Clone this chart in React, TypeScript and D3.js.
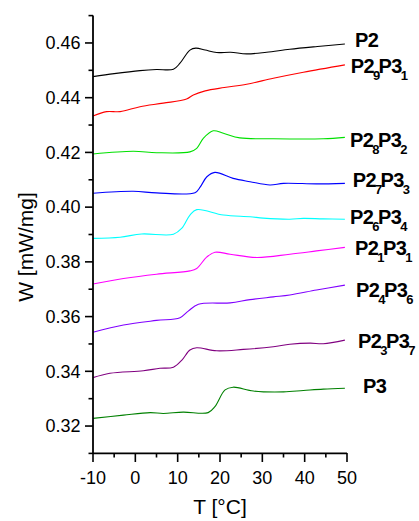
import React from "react";
import * as d3 from "d3";

// Temperature (°C) and heat-flow W (mW/mg)
const P2: [number, number][] = [
  [-10, 0.4477], [-5, 0.4488], [1.1, 0.4499], [5, 0.4503], [9.0, 0.4504], [10.55, 0.4526],
  [12.9, 0.4574], [14.3, 0.4581], [16.5, 0.4574], [19.2, 0.4565], [22.5, 0.4566],
  [26.3, 0.4560], [31, 0.4566], [36.5, 0.4577], [43, 0.4587], [49.5, 0.4596],
];
const P2_9P3_1: [number, number][] = [
  [-10, 0.4333], [-6.8, 0.4349], [-3.6, 0.4349], [1.1, 0.4367], [6.6, 0.438], [12.1, 0.4395],
  [13.7, 0.441], [16.5, 0.4425], [21, 0.4437], [26.3, 0.4449], [32.6, 0.4471],
  [39.7, 0.4493], [49.5, 0.452],
];
const P2_8P3_2: [number, number][] = [
  [-10, 0.4194], [-0.5, 0.4204], [5, 0.4199], [12.9, 0.4202], [14.5, 0.4215], [16.1, 0.4252],
  [18.4, 0.4279], [20.8, 0.427], [24.7, 0.4253], [32.6, 0.425], [44.4, 0.425], [49.5, 0.4255],
];
const P2_7P3_3: [number, number][] = [
  [-10, 0.4051], [-0.5, 0.4058], [5, 0.4052], [14.1, 0.4053], [15.3, 0.4073], [16.9, 0.4111],
  [18.8, 0.4127], [23.1, 0.4105], [27.1, 0.4093], [31.8, 0.4081], [35, 0.4087],
  [42.8, 0.4085], [49.5, 0.4087],
];
const P2_6P3_4: [number, number][] = [
  [-10, 0.3886], [-3.6, 0.389], [1.5, 0.3902], [9.0, 0.3901], [11.0, 0.3923], [12.9, 0.3971],
  [14.5, 0.3991], [20.8, 0.3971], [27.1, 0.3965], [30.2, 0.396], [36.5, 0.3956],
  [39.7, 0.3959], [44.4, 0.3957], [49.5, 0.3956],
];
const P2_1P3_1: [number, number][] = [
  [-10, 0.3719], [-2.8, 0.3739], [5, 0.3755], [12.9, 0.3767], [14.5, 0.3776], [16.9, 0.3818],
  [18.8, 0.3835], [22.4, 0.3828], [28.7, 0.3816], [36.5, 0.3828], [42.8, 0.384], [49.5, 0.3853],
];
const P2_4P3_6: [number, number][] = [
  [-10, 0.3543], [-2.8, 0.3569], [5, 0.3586], [10.55, 0.3596], [12.5, 0.362], [14.9, 0.3645],
  [22.4, 0.365], [27.1, 0.3662], [32.6, 0.3672], [36.5, 0.3679], [42.8, 0.3697], [49.5, 0.3715],
];
const P2_3P3_7: [number, number][] = [
  [-10, 0.3377], [-6, 0.3393], [1.9, 0.3402], [5.8, 0.3411], [9.0, 0.3415], [11.0, 0.3441],
  [12.9, 0.3478], [14.5, 0.3486], [19.2, 0.3475], [25.5, 0.348], [32.6, 0.349],
  [36.5, 0.3499], [41.3, 0.3503], [44.4, 0.3501], [49.5, 0.3514],
];
const P3: [number, number][] = [
  [-10, 0.3228], [-2.8, 0.324], [3.5, 0.3249], [6.6, 0.3246], [11.3, 0.3251], [17.2, 0.3249],
  [18.8, 0.3271], [21.2, 0.3332], [23.1, 0.3342], [27.9, 0.3328], [35, 0.3325],
  [39.7, 0.333], [44.4, 0.3335], [49.5, 0.3338],
];

const seriesNames = [
  ["P2"], ["P2", "9", "P3", "1"], ["P2", "8", "P3", "2"], ["P2", "7", "P3", "3"],
  ["P2", "6", "P3", "4"], ["P2", "1", "P3", "1"], ["P2", "4", "P3", "6"], ["P2", "3", "P3", "7"], ["P3"],
];
const seriesData = [P2, P2_9P3_1, P2_8P3_2, P2_7P3_3, P2_6P3_4, P2_1P3_1, P2_4P3_6, P2_3P3_7, P3];
const seriesColors = ["#000000", "#ff0000", "#00e000", "#0000ff", "#00ffff", "#ff00ff", "#8000ff", "#800080", "#008000"];
const labelLayout = [
  [355, 46.7], [350.7, 73.3], [350, 146.7], [352.7, 186.7], [350, 224],
  [355, 255], [356, 296.7], [358, 348.3], [363, 393.3],
];

const xMajor = [-10, 0, 10, 20, 30, 40, 50];
const xMinor = [-5, 5, 15, 25, 35, 45];
const yMajor = [0.32, 0.34, 0.36, 0.38, 0.40, 0.42, 0.44, 0.46];
const yMinor = [0.31, 0.33, 0.35, 0.37, 0.39, 0.41, 0.43, 0.45, 0.47];

const FONT = "'Liberation Sans', Arial, sans-serif";

export default function App() {
  const W = 419, H = 521;
  const x = d3.scaleLinear().domain([-10, 50]).range([93, 347]);
  const y = d3.scaleLinear().domain([0.31, 0.47]).range([453.4, 15.6]);
  const line = d3.line<[number, number]>()
    .x((d) => x(d[0]))
    .y((d) => y(d[1]))
    .curve(d3.curveCatmullRom.alpha(0.5));

  return (
    <svg width={W} height={H} style={{ position: "fixed", left: 0, top: 0, background: "#fff" }}>
      <rect width={W} height={H} fill="#fff" />
      {seriesData.map((s, i) => (
        <path key={i} d={line(s) || ""} fill="none" stroke={seriesColors[i]} strokeWidth={1.1} />
      ))}
      {/* axes */}
      <line x1={93} x2={93} y1={y(0.47)} y2={y(0.31)} stroke="#000" strokeWidth={1.8} />
      <line x1={93} x2={x(50)} y1={y(0.31)} y2={y(0.31)} stroke="#000" strokeWidth={1.8} />
      {yMajor.map((v) => (
        <g key={"ym" + v}>
          <line x1={85} x2={93} y1={y(v)} y2={y(v)} stroke="#000" strokeWidth={1.6} />
          <text x={80.5} y={y(v) + 6.3} textAnchor="end" fontFamily={FONT} fontSize={18} fill="#000">
            {v.toFixed(2)}
          </text>
        </g>
      ))}
      {yMinor.map((v) => (
        <line key={"yn" + v} x1={88.5} x2={93} y1={y(v)} y2={y(v)} stroke="#000" strokeWidth={1.6} />
      ))}
      {xMajor.map((v) => (
        <g key={"xm" + v}>
          <line x1={x(v)} x2={x(v)} y1={453} y2={462} stroke="#000" strokeWidth={1.6} />
          <text x={x(v)} y={483.5} textAnchor="middle" fontFamily={FONT} fontSize={18} fill="#000">
            {String(v)}
          </text>
        </g>
      ))}
      {xMinor.map((v) => (
        <line key={"xn" + v} x1={x(v)} x2={x(v)} y1={453} y2={457.5} stroke="#000" strokeWidth={1.6} />
      ))}
      <text x={220} y={514} textAnchor="middle" fontFamily={FONT} fontSize={21} fill="#000">
        T [°C]
      </text>
      <text
        transform="translate(33,247) rotate(-90)"
        textAnchor="middle"
        fontFamily={FONT}
        fontSize={21}
        fill="#000"
      >
        W [mW/mg]
      </text>
      {seriesNames.map((parts, i) => (
        <text key={"lab" + i} x={labelLayout[i][0]} y={labelLayout[i][1]} fontFamily={FONT}
          fontWeight="bold" fontSize={20} fill="#000" letterSpacing={-0.6}>
          {parts.map((p, j) =>
            j % 2 === 0 ? (
              <tspan key={j} dy={j === 0 ? 0 : -7} dx={j === 0 ? 0 : -1}>{p}</tspan>
            ) : (
              <tspan key={j} fontSize={13} dy={7} dx={-1}>{p}</tspan>
            )
          )}
        </text>
      ))}
    </svg>
  );
}
